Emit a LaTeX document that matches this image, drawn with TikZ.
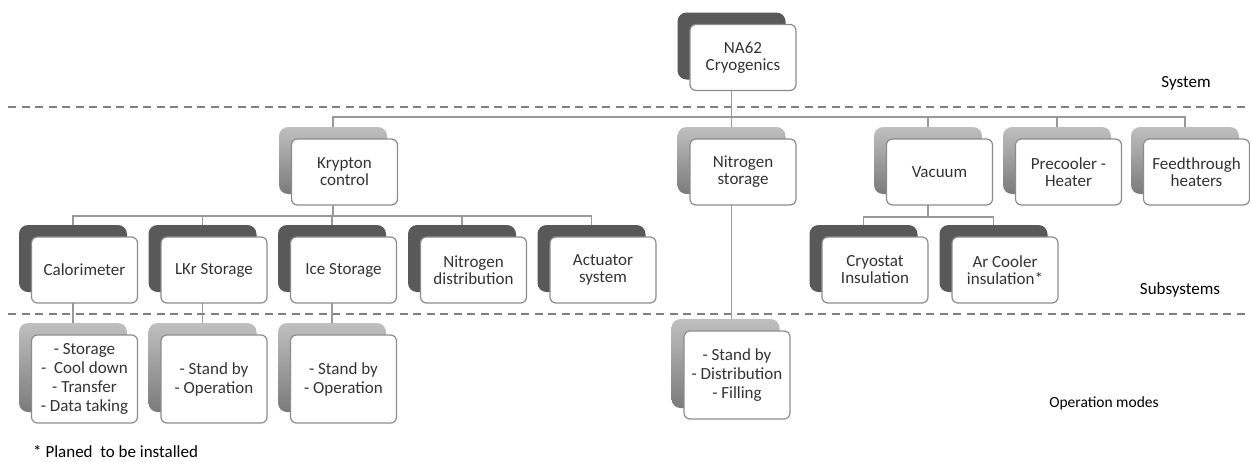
\documentclass[tikz,border=0pt]{standalone}
\usepackage{fontspec}
\setmainfont{Carlito}
\usetikzlibrary{backgrounds}
\tikzset{
  frontbox/.style={draw=black!45, line width=1.2pt, fill=white, rounded corners=6pt,
    minimum width=106pt, minimum height=66pt, inner sep=2pt, align=center,
    text=black!80, font=\fontsize{17}{17}\selectfont},
  opfront/.style={frontbox, minimum height=88pt, font=\fontsize{17}{19}\selectfont},
  darkback/.style={fill=black!65, rounded corners=9pt, minimum width=108pt,
    minimum height=67pt, inner sep=0pt},
  gradback/.style={top color=black!25, bottom color=black!52, draw=none,
    rounded corners=9pt, minimum width=108pt, minimum height=67pt, inner sep=0pt},
  opback/.style={gradback, minimum height=89pt},
  conn/.style={draw=black!40, line width=1.6pt},
  sep/.style={draw=black!50, line width=2.2pt, dash pattern=on 8pt off 5.5pt},
  lbl/.style={font=\fontsize{17}{17}\selectfont, text=black, inner sep=0pt}
}
\newcommand{\boxpair}[6]{%
  \node[#4] (#1b) at (#2-11.5,#3-11.5) {};
  \node[#5] (#1) at (#2,#3) {#6};}
\begin{document}
\begin{tikzpicture}[x=1pt,y=-1pt]
\useasboundingbox (0,0) rectangle (1250,461);
% level 1
\boxpair{na}{743}{57.5}{darkback}{frontbox}{NA62\\Cryogenics}
% level 2
\boxpair{kr}{344.5}{172}{gradback}{frontbox}{Krypton\\control}
\boxpair{ns}{743}{172}{gradback}{frontbox}{Nitrogen\\storage}
\boxpair{vac}{939.5}{172}{gradback}{frontbox}{Vacuum}
\boxpair{pre}{1068.5}{172}{gradback}{frontbox}{Precooler -\\Heater}
\boxpair{fee}{1196.5}{172}{gradback}{frontbox}{Feedthrough\\heaters}
% level 3
\boxpair{cal}{84.5}{270}{darkback}{frontbox}{Calorimeter}
\boxpair{lkr}{214}{270}{darkback}{frontbox}{LKr Storage}
\boxpair{ice}{343.5}{270}{darkback}{frontbox}{Ice Storage}
\boxpair{nd}{473.5}{270}{darkback}{frontbox}{Nitrogen\\distribution}
\boxpair{act}{603}{270}{darkback}{frontbox}{Actuator\\system}
\boxpair{cry}{875}{270}{darkback}{frontbox}{Cryostat\\Insulation}
\boxpair{arc}{1005}{270}{darkback}{frontbox}{Ar Cooler\\insulation*}
% operation modes
\boxpair{calop}{84.5}{379}{opback}{opfront}{- Storage\\-\ \ Cool down\\- Transfer\\- Data taking}
\boxpair{lkrop}{214}{379}{opback}{opfront}{- Stand by\\- Operation}
\boxpair{iceop}{343.5}{379}{opback}{opfront}{- Stand by\\- Operation}
\boxpair{nop}{737}{375}{opback}{opfront}{- Stand by\\- Distribution\\- Filling}
% labels
\node[lbl] (lsys) at (1186,83) {System};
\node[lbl] (lsub) at (1180,290) {Subsystems};
\node[lbl, font=\fontsize{15.5}{15.5}\selectfont] (lop) at (1104,403) {Operation modes};
\node[lbl, anchor=base west] (lnote) at (33,457) {* Planed\ \ to be installed};
\begin{pgfonlayer}{background}
  \coordinate (bus1) at (0,117);
  \coordinate (bus2) at (0,216);
  \coordinate (bus3) at (0,217);
  \coordinate (sepl1) at (8,107);
  \coordinate (sepr1) at (1250,107);
  \coordinate (sepl2) at (8,314);
  \coordinate (sepr2) at (1250,314);
  \draw[sep] (sepl1) -- (sepr1);
  \draw[sep] (sepl2) -- (sepr2);
  \foreach \c in {kr,ns,vac,pre,fee}
    \draw[conn] (nab.center) -- (nab.center |- bus1) -| (\c b.center);
  \foreach \c in {cal,lkr,ice,nd,act}
    \draw[conn] (krb.center) -- (krb.center |- bus2) -| (\c b.center);
  \foreach \c in {cry,arc}
    \draw[conn] (vacb.center) -- (vacb.center |- bus3) -| (\c b.center);
  \draw[conn] (calb.center) -- (calopb.center);
  \draw[conn] (lkrb.center) -- (lkropb.center);
  \draw[conn] (iceb.center) -- (iceopb.center);
  \draw[conn] (nsb.center) -- (nsb.center |- nopb.north);
\end{pgfonlayer}
\end{tikzpicture}
\end{document}
